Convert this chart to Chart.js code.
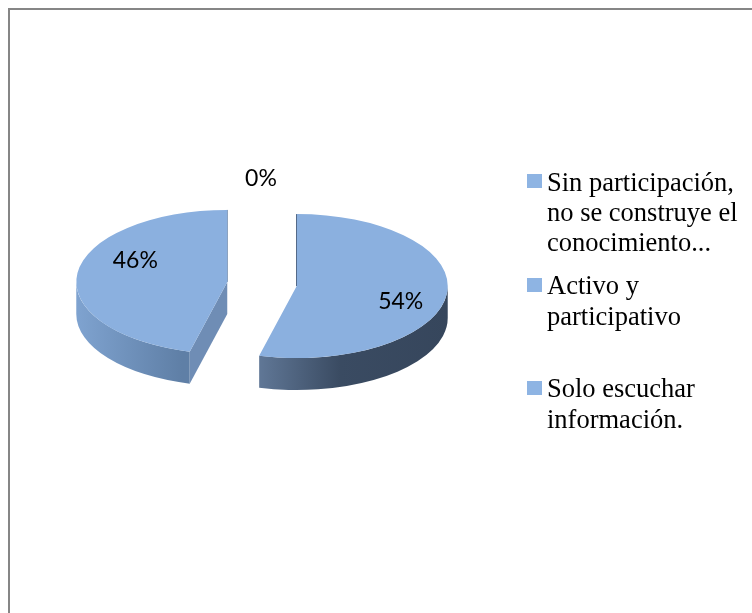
<!DOCTYPE html>
<html>
<head>
<meta charset="utf-8">
<script src="https://cdn.jsdelivr.net/npm/chart.js@4"></script>
<style>
  html, body { margin: 0; padding: 0; background: #fff; overflow: hidden; }
  #frame { position: absolute; left: 8px; top: 8px; width: 744px; height: 605px; box-sizing: border-box;
           border-left: 2px solid #868686; border-top: 2px solid #868686; }
  #pie { position: absolute; left: 0; top: 0; }
  .legend-mark { position: absolute; left: 527px; width: 15px; height: 14px; background: #8EB4E3; }
  .legend-text { position: absolute; left: 547px; font: 26.5px "Liberation Serif", serif; color: #000; white-space: nowrap; }
</style>
</head>
<body>
<div id="frame"></div>
<canvas id="pie" width="752" height="613"></canvas>
<div id="legend"></div>
<script>
// data
const categories = [
    ["Sin participación,", "no se construye el", "conocimiento..."],
    ["Activo y", "participativo"],
    ["Solo escuchar", "información."]
];
const values = [0, 54, 46];

// look
const topColor = "#8BB0DF";
const explode = [0, 35, 35];
const wallStops = [
    [],
    [[261, "#5F7695"], [340, "#3A4B62"], [448, "#36465C"]],
    [[76, "#7FA3D0"], [182, "#5F7FA6"]]
];
const cutColor = "#6F8DB5";
const edgeColor = ["", "#3F5068", "#8C9DB5"];
const labelShift = [[-1, -105.5], [104, 15.5], [-92, -21.5]];
const legendTops = [167, 269.5, 372.5];
const legendLineHeights = [30, 31.5, 31.5];
const legendMarks = [174, 278, 381];

const squash = 72 / 151, pieCenterY = 284, depth = 32;

function projY(chart, y) {
    const mid = (chart.chartArea.top + chart.chartArea.bottom) / 2;
    return pieCenterY + (y - mid) * squash;
}

// moves the slices out and draws the 3d side walls under them
const pie3d = {
    id: "pie3d",
    afterDatasetsUpdate(chart) {
        chart.getDatasetMeta(0).data.forEach((arc, i) => {
            const mid = (arc.startAngle + arc.endAngle) / 2;
            arc.x += Math.cos(mid) * explode[i];
            arc.y += Math.sin(mid) * explode[i];
        });
    },
    beforeDatasetsDraw(chart) {
        const ctx = chart.ctx;
        const ry = 151 * squash;
        chart.getDatasetMeta(0).data.forEach((arc, i) => {
            if (arc.circumference === 0) return;
            const cx = arc.x, cy = projY(chart, arc.y), r = arc.outerRadius;
            const from = Math.max(arc.startAngle, 0), to = Math.min(arc.endAngle, Math.PI);

            // rim wall
            if (to > from) {
                const stops = wallStops[i];
                const x0 = stops[0][0], x1 = stops[stops.length - 1][0];
                const grad = ctx.createLinearGradient(x0, 0, x1, 0);
                stops.forEach(s => grad.addColorStop((s[0] - x0) / (x1 - x0), s[1]));
                ctx.beginPath();
                ctx.ellipse(cx, cy, r, ry, 0, from, to);
                ctx.ellipse(cx, cy + depth, r, ry, 0, to, from, true);
                ctx.closePath();
                ctx.fillStyle = grad;
                ctx.fill();
            }

            // cut face, only when it looks at the viewer
            [[arc.startAngle, arc.startAngle - Math.PI / 2], [arc.endAngle, arc.endAngle + Math.PI / 2]].forEach(([a, normal]) => {
                const px = cx + r * Math.cos(a), py = cy + ry * Math.sin(a);
                if (Math.sin(normal) > 0.001) {
                    ctx.beginPath();
                    ctx.moveTo(cx, cy);
                    ctx.lineTo(px, py);
                    ctx.lineTo(px, py + depth);
                    ctx.lineTo(cx, cy + depth);
                    ctx.closePath();
                    ctx.fillStyle = cutColor;
                    ctx.fill();
                } else if (Math.abs(Math.sin(normal)) <= 0.001) {
                    // nearly edge on
                    ctx.beginPath();
                    ctx.moveTo(px, py);
                    ctx.lineTo(cx, cy);
                    ctx.strokeStyle = edgeColor[i];
                    ctx.lineWidth = 1.5;
                    ctx.stroke();
                }
            });
        });

        ctx.save();
        const mid = (chart.chartArea.top + chart.chartArea.bottom) / 2;
        ctx.translate(0, pieCenterY - mid * squash);
        ctx.scale(1, squash);
    },
    afterDatasetsDraw(chart) {
        const ctx = chart.ctx;
        ctx.restore();

        // percent labels
        ctx.save();
        ctx.font = "23px Lato";
        ctx.fillStyle = "#000";
        ctx.textAlign = "center";
        ctx.textBaseline = "middle";
        const total = values.reduce((a, b) => a + b, 0);
        chart.getDatasetMeta(0).data.forEach((arc, i) => {
            const text = Math.round(values[i] / total * 100) + "%";
            ctx.fillText(text, arc.x + labelShift[i][0], projY(chart, arc.y) + labelShift[i][1]);
        });
        ctx.restore();
    }
};

new Chart(document.getElementById("pie").getContext("2d"), {
    type: "pie",
    data: {
        labels: categories.map(c => c.join(" ")),
        datasets: [{
            data: values,
            backgroundColor: topColor,
            borderWidth: 0,
            clip: false
        }]
    },
    options: {
        responsive: false,
        animation: false,
        events: [],
        radius: 151,
        layout: { padding: { right: 228 } },
        plugins: { legend: { display: false }, tooltip: { enabled: false } }
    },
    plugins: [pie3d]
});

// legend on the right, wrapped like the original
const legendBox = document.getElementById("legend");
categories.forEach((lines, i) => {
    const mark = document.createElement("div");
    mark.className = "legend-mark";
    mark.style.top = legendMarks[i] + "px";
    legendBox.appendChild(mark);
    const text = document.createElement("div");
    text.className = "legend-text";
    text.style.top = legendTops[i] + "px";
    text.style.lineHeight = legendLineHeights[i] + "px";
    text.innerHTML = lines.join("<br>");
    legendBox.appendChild(text);
});
</script>
</body>
</html>
